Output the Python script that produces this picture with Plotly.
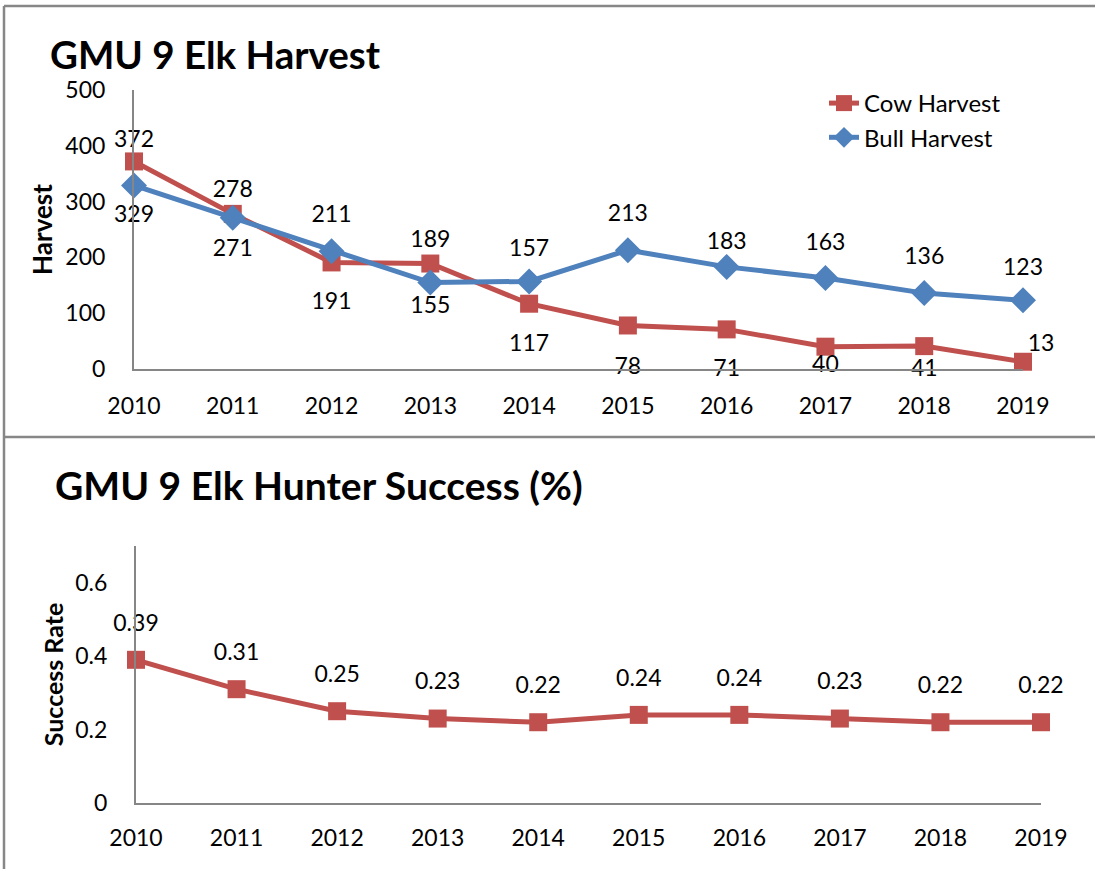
import plotly.graph_objects as go

# data
years = [2010, 2011, 2012, 2013, 2014, 2015, 2016, 2017, 2018, 2019]
cow_harvest = [372, 278, 191, 189, 117, 78, 71, 40, 41, 13]
bull_harvest = [329, 271, 211, 155, 157, 213, 183, 163, 136, 123]
success_rate = [0.39, 0.31, 0.25, 0.23, 0.22, 0.24, 0.24, 0.23, 0.22, 0.22]

W, H = 1095, 869
RED = '#C0504D'
BLUE = '#4F81BD'
AXIS = '#868686'
FONT = 'Lato'
LABEL_FONT = dict(size=23, color='black', family=FONT)

def px_x(p):
    return p / W

def px_y(p):
    return 1 - p / H

# label placement (position + invisible marker size which sets the gap to the point)
cow_pos = ['top center', 'top center', 'bottom center', 'top center', 'bottom center',
           'bottom center', 'bottom center', 'bottom center', 'bottom center', 'top right']
cow_gap = [12, 16, 46, 16, 46, 48, 46, 12, 18, 6]
bull_pos = ['bottom center', 'bottom center', 'top center', 'bottom center', 'top center',
            'top center', 'top center', 'top center', 'top center', 'top center']
bull_gap = [30, 32, 36, 20, 30, 36, 18, 34, 36, 30]

fig = go.Figure()

# lines with markers
fig.add_trace(go.Scatter(
    x=years, y=cow_harvest, name='Cow Harvest', mode='lines+markers',
    line=dict(color=RED, width=5), marker=dict(symbol='square', size=18, color=RED),
    xaxis='x', yaxis='y', cliponaxis=False
))
fig.add_trace(go.Scatter(
    x=years, y=bull_harvest, name='Bull Harvest', mode='lines+markers',
    line=dict(color=BLUE, width=5), marker=dict(symbol='diamond', size=20, color=BLUE),
    xaxis='x', yaxis='y', cliponaxis=False
))
fig.add_trace(go.Scatter(
    x=years, y=success_rate, name='Success', mode='lines+markers',
    line=dict(color=RED, width=5), marker=dict(symbol='square', size=18, color=RED),
    xaxis='x2', yaxis='y2', cliponaxis=False, showlegend=False
))

# data labels
fig.add_trace(go.Scatter(
    x=years, y=cow_harvest, mode='markers+text', showlegend=False, hoverinfo='skip',
    marker=dict(size=cow_gap, opacity=0), text=[str(v) for v in cow_harvest],
    textposition=cow_pos, textfont=LABEL_FONT, xaxis='x', yaxis='y', cliponaxis=False
))
fig.add_trace(go.Scatter(
    x=years, y=bull_harvest, mode='markers+text', showlegend=False, hoverinfo='skip',
    marker=dict(size=bull_gap, opacity=0), text=[str(v) for v in bull_harvest],
    textposition=bull_pos, textfont=LABEL_FONT, xaxis='x', yaxis='y', cliponaxis=False
))
fig.add_trace(go.Scatter(
    x=years, y=success_rate, mode='markers+text', showlegend=False, hoverinfo='skip',
    marker=dict(size=36, opacity=0), text=[f'{v:.2f}' for v in success_rate],
    textposition='top center', textfont=LABEL_FONT, xaxis='x2', yaxis='y2', cliponaxis=False
))

axis_common = dict(
    showline=True, linecolor=AXIS, linewidth=2, showgrid=False, zeroline=False,
    ticks='outside', tickcolor='rgba(0,0,0,0)', automargin=False,
    tickfont=dict(size=23, color='black', family=FONT),
)

fig.update_layout(
    width=W, height=H,
    margin=dict(l=0, r=0, t=0, b=0, autoexpand=False),
    paper_bgcolor='white', plot_bgcolor='white',
    font=dict(family=FONT, color='black'),
    xaxis=dict(domain=[px_x(134), px_x(1023)], range=[2010, 2019], dtick=1,
               anchor='y', ticklen=15, **axis_common),
    yaxis=dict(domain=[px_y(369), px_y(90)], range=[0, 500], dtick=100,
               anchor='x', ticklen=22,
               title=dict(text='<b>Harvest</b>', font=dict(size=26, family=FONT), standoff=5),
               **axis_common),
    xaxis2=dict(domain=[px_x(136), px_x(1041)], range=[2010, 2019], dtick=1,
                anchor='y2', ticklen=13, **axis_common),
    yaxis2=dict(domain=[px_y(803), px_y(546)], range=[0, 0.7], tickvals=[0, 0.2, 0.4, 0.6],
                ticktext=['0', '0.2', '0.4', '0.6'],
                anchor='x2', ticklen=22,
                title=dict(text='<b>Success Rate</b>', font=dict(size=25, family=FONT), standoff=5),
                **axis_common),
    legend=dict(x=px_x(824), y=px_y(81), xanchor='left', yanchor='top',
                font=dict(size=24, family=FONT), bgcolor='rgba(0,0,0,0)',
                tracegroupgap=0, itemwidth=30),
    showlegend=True,
    annotations=[
        dict(text='<b>GMU 9 Elk Harvest</b>', x=px_x(48), y=px_y(54), xref='paper', yref='paper',
             xanchor='left', yanchor='middle', showarrow=False,
             font=dict(size=38.5, family=FONT, color='black')),
        dict(text='<b>GMU 9 Elk Hunter Success (%)</b>', x=px_x(53), y=px_y(485), xref='paper',
             yref='paper', xanchor='left', yanchor='middle', showarrow=False,
             font=dict(size=39, family=FONT, color='black')),
    ],
    shapes=[
        dict(type='line', xref='paper', yref='paper', x0=px_x(4), x1=1, y0=px_y(6), y1=px_y(6),
             line=dict(color='#878787', width=2.5)),
        dict(type='line', xref='paper', yref='paper', x0=px_x(4), x1=px_x(4), y0=px_y(6), y1=0,
             line=dict(color='#878787', width=2.5)),
        dict(type='line', xref='paper', yref='paper', x0=px_x(4), x1=1, y0=px_y(437), y1=px_y(437),
             line=dict(color='#878787', width=2.5)),
    ],
)

fig.write_html('out.html', config={'displayModeBar': False},
               post_script="document.body.style.margin='0';")
